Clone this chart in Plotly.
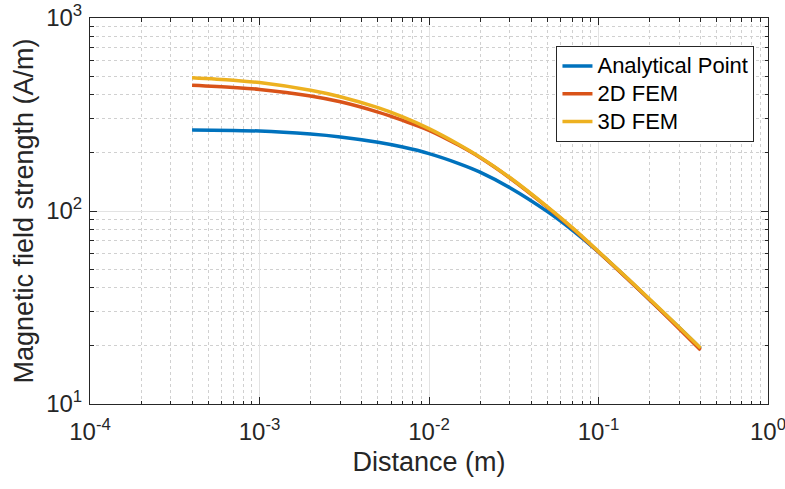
import plotly.graph_objects as go

# Data
distance = [4e-4, 7e-4, 1e-3, 2e-3, 3e-3, 5e-3, 7e-3, 1e-2, 1.5e-2, 2e-2,
            3e-2, 5e-2, 7e-2, 0.1, 0.15, 0.2, 0.3, 0.4]
analytical = [262.9, 261.0, 259.7, 250.3, 241.8, 227.0, 214.4, 198.4, 176.2, 159.1,
              132.1, 99.3, 79.7, 61.3, 44.2, 34.7, 24.8, 19.4]
fem2d = [448.1, 436.9, 426.7, 394.4, 367.9, 325.4, 294.7, 261.9, 219.0, 189.3,
         148.3, 104.5, 81.5, 61.3, 44.1, 34.7, 24.5, 19.05]
fem3d = [490.6, 476.1, 462.7, 422.2, 391.0, 342.9, 307.3, 267.3, 221.1, 190.2,
         149.1, 105.1, 82.0, 61.7, 44.4, 35.0, 24.9, 19.5]

series_names = ["Analytical Point", "2D FEM", "3D FEM"]
series_colors = ["#0072BD", "#D95319", "#EDB120"]

x_tickvals = [1e-4, 1e-3, 1e-2, 1e-1, 1]
x_ticktext = ["10<sup>-4</sup>", "10<sup>-3</sup>", "10<sup>-2</sup>", "10<sup>-1</sup>", "10<sup>0</sup>"]
y_tickvals = [10, 100, 1000]
y_ticktext = ["10<sup>1</sup>", "10<sup>2</sup>", "10<sup>3</sup>"]

x_minor = [m * 10 ** e for e in range(-4, 0) for m in range(2, 10)]
y_minor = [m * 10 ** e for e in range(1, 3) for m in range(2, 10)]

FONT = "Liberation Sans, Arial, Helvetica, sans-serif"
AX = "#262626"

fig = go.Figure()
for name, vals, col in zip(series_names, [analytical, fem2d, fem3d], series_colors):
    fig.add_trace(go.Scatter(x=distance, y=vals,
                             name='<span style="font-size:22px">' + name + '</span>',
                             mode="lines",
                             line=dict(color=col, width=3.5, shape="spline", smoothing=1.0)))

common = dict(showline=True, linecolor=AX, linewidth=1, mirror="ticks",
              ticks="inside", ticklen=7, tickcolor=AX,
              showgrid=True, gridcolor="#e3e3e3", gridwidth=1,
              tickfont=dict(family=FONT, size=24, color=AX),
              ticklabeloverflow="allow",
              zeroline=False)

fig.update_xaxes(type="log", range=[-4, 0], tickmode="array",
                 tickvals=x_tickvals, ticktext=x_ticktext, ticklabelstandoff=6,
                 minor=dict(tickmode="array", tickvals=x_minor, ticks="inside", ticklen=3.5,
                            tickcolor=AX, showgrid=True, gridcolor="#d0d0d0", griddash="dot"),
                 title=dict(text="Distance (m)", font=dict(family=FONT, size=27, color=AX), standoff=8),
                 **common)
fig.update_yaxes(type="log", range=[1, 3], tickmode="array",
                 tickvals=y_tickvals, ticktext=y_ticktext, ticklabelstandoff=2,
                 minor=dict(tickmode="array", tickvals=y_minor, ticks="inside", ticklen=3.5,
                            tickcolor=AX, showgrid=True, gridcolor="#d0d0d0", griddash="dot"),
                 title=dict(text="Magnetic field strength (A/m)", font=dict(family=FONT, size=27, color=AX), standoff=4),
                 **common)

fig.update_layout(
    width=785, height=489,
    margin=dict(l=90, r=17, t=18, b=85, autoexpand=False),
    paper_bgcolor="white", plot_bgcolor="white",
    font=dict(family=FONT, color=AX),
    legend=dict(x=0.688, y=0.927, xanchor="left", yanchor="top",
                bgcolor="white", bordercolor=AX, borderwidth=1,
                font=dict(family=FONT, size=19, color="black"),
                tracegroupgap=0, itemwidth=30),
    showlegend=True,
)

fig.write_html("out.html")
